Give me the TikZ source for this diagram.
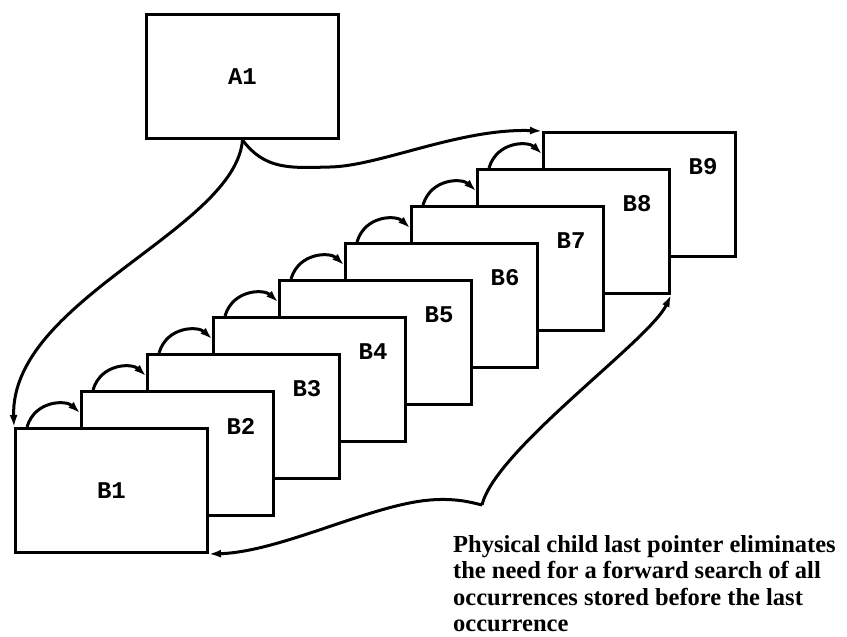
\documentclass[tikz,border=0pt]{standalone}
\usepackage{fontspec}
\setmainfont{Liberation Serif}
\newfontfamily\boxfont{Liberation Mono}
\usetikzlibrary{arrows.meta,calc}
\begin{document}
\begin{tikzpicture}[x=1pt,y=-1pt,
  rec/.style={draw,fill=white,line width=3pt,minimum width=192pt,minimum height=124pt,inner sep=0pt,anchor=north west},
  lbl/.style={font=\boxfont\bfseries\fontsize{24}{24}\selectfont,inner sep=0pt},
  ptr/.style={line width=3pt,-{Latex[length=12pt,width=8pt]}},
  note/.style={font=\bfseries\fontsize{24.5}{26.5}\selectfont,align=left,inner sep=0pt,anchor=north west}]
\useasboundingbox (0,0) rectangle (847,637);
% parent
\node[rec] (A1) at (145,13) {};
\node[lbl] (A1l) at (A1.center) {A1};
% children, drawn back to front
\foreach \i in {9,8,...,1}{
  \node[rec] (B\i) at ({14+66*(\i-1)},{427-37*(\i-1)}) {};
}
\node[lbl] (B1l) at (B1.center) {B1};
\foreach \i in {2,...,9}{
  \node[lbl] (B\i l) at ($(B\i.north west)+(161,36)$) {B\i};
}
% twin pointers
\foreach \i/\j in {1/2,2/3,3/4,4/5,5/6,6/7,7/8,8/9}{
  \draw[ptr] ($(B\i.north west)+(13,0)$) .. controls +(8,-27) and +(-14,-13) .. ($(B\j.north west)+(0,23)$);
}
% parent to first child
\draw[ptr] (A1.south) .. controls (235,230) and (10,300) .. (B1.north west);
% parent to last child
\draw[ptr] (A1.south) .. controls (265,170) and (290,168) .. (330,167)
  .. controls (380,166) and (460,128) .. (B9.north west);
% physical child last pointer
\coordinate (cusp) at (482,505);
\draw[ptr] (cusp) .. controls (470,502) and (455,498) .. (430,500)
  .. controls (370,505) and (280,552) .. (B1.south east);
\draw[ptr] (cusp) .. controls (495,450) and (650,340) .. (B8.south east);
% caption
\node[note] (cap) at (453,535) {Physical child last pointer eliminates\\the need for a forward search of all\\occurrences stored before the last\\occurrence};
\end{tikzpicture}
\end{document}
